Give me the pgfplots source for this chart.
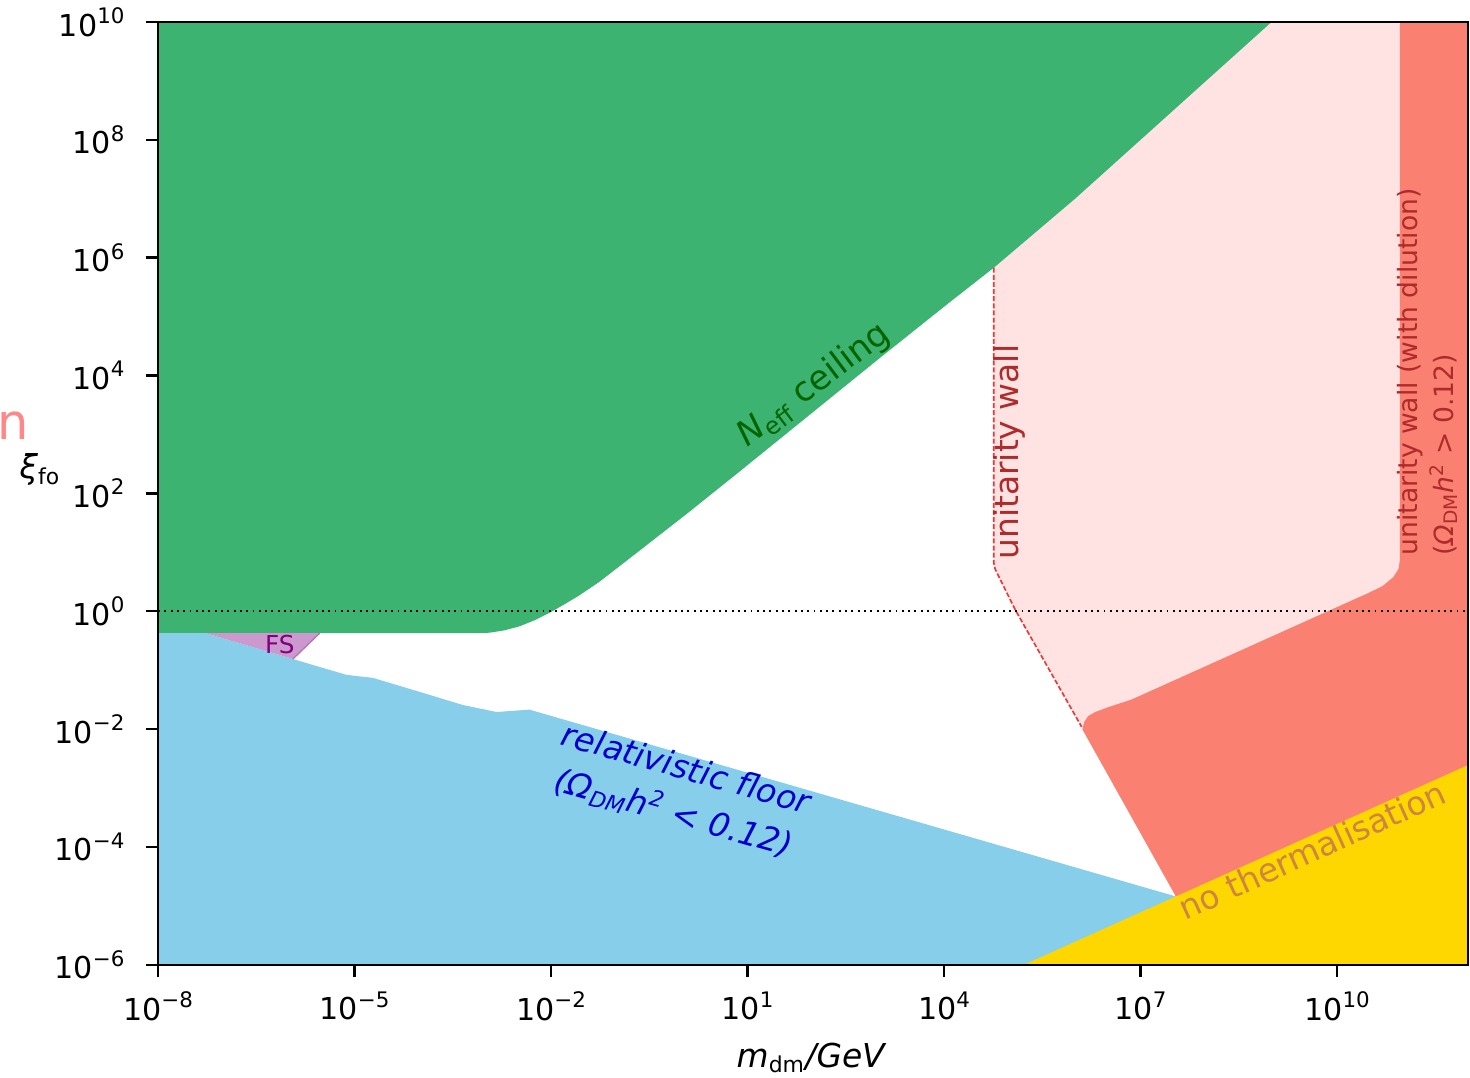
\documentclass[border=0pt]{standalone}
\usepackage{fontspec}
\setmainfont{DejaVu Sans}
\usepackage{pgfplots}
\pgfplotsset{compat=1.18}
\definecolor{cgreen}{RGB}{60,179,113}
\definecolor{cblue}{RGB}{135,206,235}
\definecolor{cpink}{RGB}{255,226,226}
\definecolor{csalmon}{RGB}{250,128,114}
\definecolor{cgold}{RGB}{255,215,0}
\definecolor{cfs}{RGB}{204,153,206}
\definecolor{cdarkgreen}{RGB}{0,100,0}
\definecolor{cmblue}{RGB}{0,0,205}
\definecolor{cbrown}{RGB}{175,42,42}
\definecolor{cperu}{RGB}{205,133,63}
\definecolor{cpurple}{RGB}{128,0,128}
\definecolor{cdash}{RGB}{235,55,55}
\definecolor{cn}{RGB}{255,135,135}
\newcommand{\tl}[1]{10\raisebox{0.42em}{\fontsize{7.8}{8}\selectfont #1}}
\begin{document}
\begin{tikzpicture}
\begin{axis}[
  scale only axis, width=478pt, height=344pt,
  xmode=log, ymode=log,
  xmin=1e-8, xmax=1e12, ymin=1e-6, ymax=1e10,
  axis on top,
  tick pos=left, tick align=outside,
  major tick length=4.5pt,
  xminorticks=false, yminorticks=false,
  xtick={1e-8,1e-5,1e-2,1e1,1e4,1e7,1e10},
  xticklabels={\tl{−8},\tl{−5},\tl{−2},\tl{1},\tl{4},\tl{7},\tl{10}},
  ytick={1e-6,1e-4,1e-2,1,1e2,1e4,1e6,1e8,1e10},
  yticklabels={\tl{−6},\tl{−4},\tl{−2},\tl{0},\tl{2},\tl{4},\tl{6},\tl{8},\tl{10}},
  tick label style={font=\fontsize{11}{13}\selectfont},
  yticklabel style={xshift=-4.2pt},
  xticklabel style={yshift=-1.8pt},
  axis line style={line width=0.9pt},
  every tick/.style={black, line width=0.9pt},
  xlabel={\textit{m}\textsubscript{dm}\textit{/GeV}},
  xlabel style={at={(axis description cs:0.499,-0.0986)}, anchor=center, font=\fontsize{12}{14}\selectfont},
  ylabel={\textit{ξ}\textsubscript{fo}},
  ylabel style={at={(axis description cs:-0.090,0.525)}, anchor=center, rotate=-90, font=\fontsize{12}{14}\selectfont},
]
% pink (unitarity wall)
\addplot[fill=cpink, draw=none] coordinates {
 (5.754e4,1e10) (1e12,1e10) (1e12,1e-6) (3.467e7,1.445e-5) (1.259e6,0.01096)
 (1.230e5,1.047) (6.918e4,3.802) (6.026e4,5.248) (5.754e4,6.607)} -- cycle;
% green (Neff ceiling)
\addplot[fill=cgreen, draw=none] coordinates {
 (1e-8,1e10) (1e-8,0.4266) (5.70e-4,0.4266) (1.151e-3,0.432) (1.950e-3,0.4742)
 (3.296e-3,0.5546) (5.585e-3,0.7015) (9.462e-3,0.9397) (0.01600,1.309) (0.02710,1.862)
 (0.05470,3.155) (0.2228,10.59) (1.288,48.5) (7.447,231.7) (100,2399) (1000,1.905e4)
 (1.175e4,1.698e5) (5.754e4,6.761e5) (1e6,1e7) (1e9,1e10)} -- cycle;
% blue (relativistic floor)
\addplot[fill=cblue, draw=none] coordinates {
 (1e-8,0.4266) (5.25e-8,0.4266) (1.148e-6,0.155) (2.291e-6,0.1230) (7.586e-6,0.0832)
 (1.905e-5,0.0741) (4.365e-5,0.0562) (1.413e-4,0.0380) (4.467e-4,0.0257)
 (1.479e-3,0.0195) (4.677e-3,0.0214) (3.467e7,1.445e-5) (3.467e7,1e-6) (1e-8,1e-6)} -- cycle;
% dashed unitarity wall line
\addplot[cdash, line width=0.6pt, dash pattern=on 1.8pt off 0.8pt] coordinates {
 (5.754e4,6.761e5) (5.754e4,6.607) (6.026e4,5.248) (6.918e4,3.802) (1.230e5,1.047) (1.259e6,0.01096)};
% salmon (unitarity wall with dilution)
\addplot[fill=csalmon, draw=none] coordinates {
 (1.30e6,0.00983) (1.380e6,0.01318) (1.585e6,0.01660) (2.042e6,0.01950) (3.162e6,0.02344)
 (7.244e6,0.03162) (3.02e10,2.042) (5.012e10,2.692) (7.244e10,3.802) (8.71e10,5.248)
 (9.12e10,7.413) (9.12e10,1e10) (1e12,1e10) (1e12,1e-6) (3.467e7,1.445e-5)} -- cycle;
% gold (no thermalisation)
\addplot[fill=cgold, draw=none] coordinates {
 (1.660e5,1e-6) (1e12,2.455e-3) (1e12,1e-6)} -- cycle;
% FS
\addplot[fill=cfs, draw=none] coordinates {
 (5.25e-8,0.4266) (2.951e-6,0.4266) (1.148e-6,0.155)} -- cycle;
\addplot[cpurple!55, line width=0.5pt] coordinates {(2.951e-6,0.4266) (1.148e-6,0.155)};
% dotted line at 1
\addplot[black, line width=0.7pt, dash pattern=on 0.7pt off 1.6pt] coordinates {(1e-8,1) (1e12,1)};
% labels
\node[rotate=37, text=cdarkgreen, font=\fontsize{12.5}{15}\selectfont] at (axis cs:103.5,6.9e3) {\textit{N}\textsubscript{eff} ceiling};
\node[rotate=-15.8, text=cmblue, align=center, font=\itshape\fontsize{12}{16.8}\selectfont] at (axis cs:0.923,8.63e-4) {relativistic floor\\(Ω\textsubscript{DM}h\textsuperscript{2} < 0.12)};
\node[rotate=90, text=cbrown, font=\fontsize{12}{14}\selectfont] at (axis cs:1e5,501) {unitarity wall};
\node[rotate=90, align=left, text=cbrown, font=\fontsize{9.7}{13.1}\selectfont] at (axis cs:2.37e11,1.15e4) {unitarity wall (with dilution)\\(\textit{Ω}\textsubscript{DM}\textit{h}\textsuperscript{2} > 0.12)};
\node[rotate=24.3, text=cperu, font=\fontsize{12}{14}\selectfont] at (axis cs:4.17e9,8.9e-5) {no thermalisation};
\node[text=cpurple, font=\fontsize{9}{11}\selectfont] at (axis cs:7.24e-7,0.269) {FS};
\end{axis}
\node[anchor=base east, inner sep=0pt, text=cn, font=\fontsize{18}{20}\selectfont] at ([xshift=-47pt, yshift=191.6pt]current axis.south west) {n};
\pgfresetboundingbox
\path[use as bounding box] ([xshift=-57.66pt,yshift=-41.24pt]current axis.south west) rectangle ([xshift=0.73pt,yshift=8.03pt]current axis.north east);
\end{tikzpicture}
\end{document}
